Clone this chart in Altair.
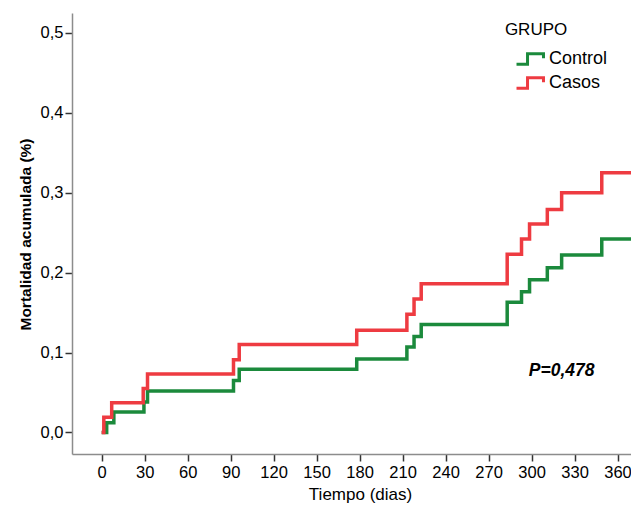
import altair as alt
import pandas as pd

# Kaplan-Meier style cumulative mortality
days_control = [0, 3.5, 8.5, 29.5, 32, 92, 96, 178, 213, 218, 223, 283, 293, 298.6, 311, 321, 349, 376]
mort_control = [0, 0.012, 0.0255, 0.038, 0.052, 0.065, 0.079, 0.092, 0.107, 0.120, 0.135,
                 0.163, 0.176, 0.191, 0.206, 0.222, 0.242, 0.242]
days_casos = [0, 1.5, 7, 29, 32, 92, 96, 178, 213, 218, 223, 283, 293, 298.6, 311, 321, 349, 376]
mort_casos = [0, 0.019, 0.037, 0.055, 0.073, 0.091, 0.110, 0.128, 0.148, 0.167, 0.186,
              0.223, 0.242, 0.261, 0.279, 0.300, 0.325, 0.325]

groups = ["Control", "Casos"]
colors = ["#1b8a3c", "#ee3b41"]
x_ticks = list(range(0, 361, 30))
y_ticks = [0.0, 0.1, 0.2, 0.3, 0.4, 0.5]

p_label = ["P=0,478"]
p_day = [321]
p_mort = [0.077]

legend_title = ["GRUPO"]
legend_title_day = [281.4]
legend_title_mort = [0.504]

rows = []
for d, m in zip(days_control, mort_control):
    rows.append({"dia": d, "mort": m, "GRUPO": "Control"})
for d, m in zip(days_casos, mort_casos):
    rows.append({"dia": d, "mort": m, "GRUPO": "Casos"})
df = pd.DataFrame(rows)
ann = pd.DataFrame({"dia": p_day, "mort": p_mort, "txt": p_label})
ttl = pd.DataFrame({"dia": legend_title_day, "mort": legend_title_mort, "txt": legend_title})

FONT = "Liberation Sans"

xscale = alt.Scale(domain=[-20.7, 369.4], nice=False, zero=False)
yscale = alt.Scale(domain=[-0.027, 0.525], nice=False, zero=False)

lines = alt.Chart(df).mark_line(interpolate="step-after", strokeWidth=3.5, clip=True).encode(
    x=alt.X("dia:Q", scale=xscale,
            axis=alt.Axis(title="Tiempo (dias)", values=x_ticks, format="d",
                          grid=False, tickSize=7, labelPadding=3,
                          titleX=288, titleAlign="center",
                          titleY=32, titleBaseline="top", titleFontSize=17,
                          titleFontWeight="normal")),
    y=alt.Y("mort:Q", scale=yscale,
            axis=alt.Axis(title="Mortalidad acumulada (%)", values=y_ticks, grid=False,
                          tickSize=7, labelPadding=2,
                          labelExpr="replace(format(datum.value, '.1f'), '.', ',')",
                          titleX=-42, titleY=221, titleBaseline="alphabetic",
                          titleAlign="center", titleFontSize=15.5, titleFontWeight="bold")),
    color=alt.Color("GRUPO:N", scale=alt.Scale(domain=groups, range=colors),
                    legend=alt.Legend(title=None, orient="none", legendX=447, legendY=35,
                                      symbolType="M-1.42,0.54H-0.26V-0.54H1.42V-0.09",
                                      symbolSize=361, symbolStrokeWidth=3,
                                      symbolFillColor="transparent",
                                      labelOffset=8, rowPadding=0, padding=0)),
)

ptext = alt.Chart(ann).mark_text(fontSize=17.5, fontWeight="bold", fontStyle="italic",
                                 font=FONT, color="#000000").encode(
    x=alt.X("dia:Q", scale=xscale),
    y=alt.Y("mort:Q", scale=yscale),
    text="txt:N",
)

gtext = alt.Chart(ttl).mark_text(fontSize=17, align="left", baseline="middle",
                                 font=FONT, color="#000000").encode(
    x=alt.X("dia:Q", scale=xscale),
    y=alt.Y("mort:Q", scale=yscale),
    text="txt:N",
)

chart = alt.layer(lines, ptext, gtext).properties(
    width=559, height=441,
    autosize=alt.AutoSizeParams(type="none"),
    padding={"left": 64, "top": 5, "right": 0, "bottom": 51},
).configure_view(stroke=None).configure_axis(
    labelFont=FONT, titleFont=FONT, labelFontSize=16.5,
    labelColor="#000000", titleColor="#000000",
    domainColor="#8c8c8c", domainWidth=1.5, tickColor="#333333", tickWidth=1.5,
).configure_legend(
    labelFont=FONT, labelFontSize=18, labelColor="#000000",
)

chart.save("out.html", embed_options={"renderer": "svg", "actions": False})
